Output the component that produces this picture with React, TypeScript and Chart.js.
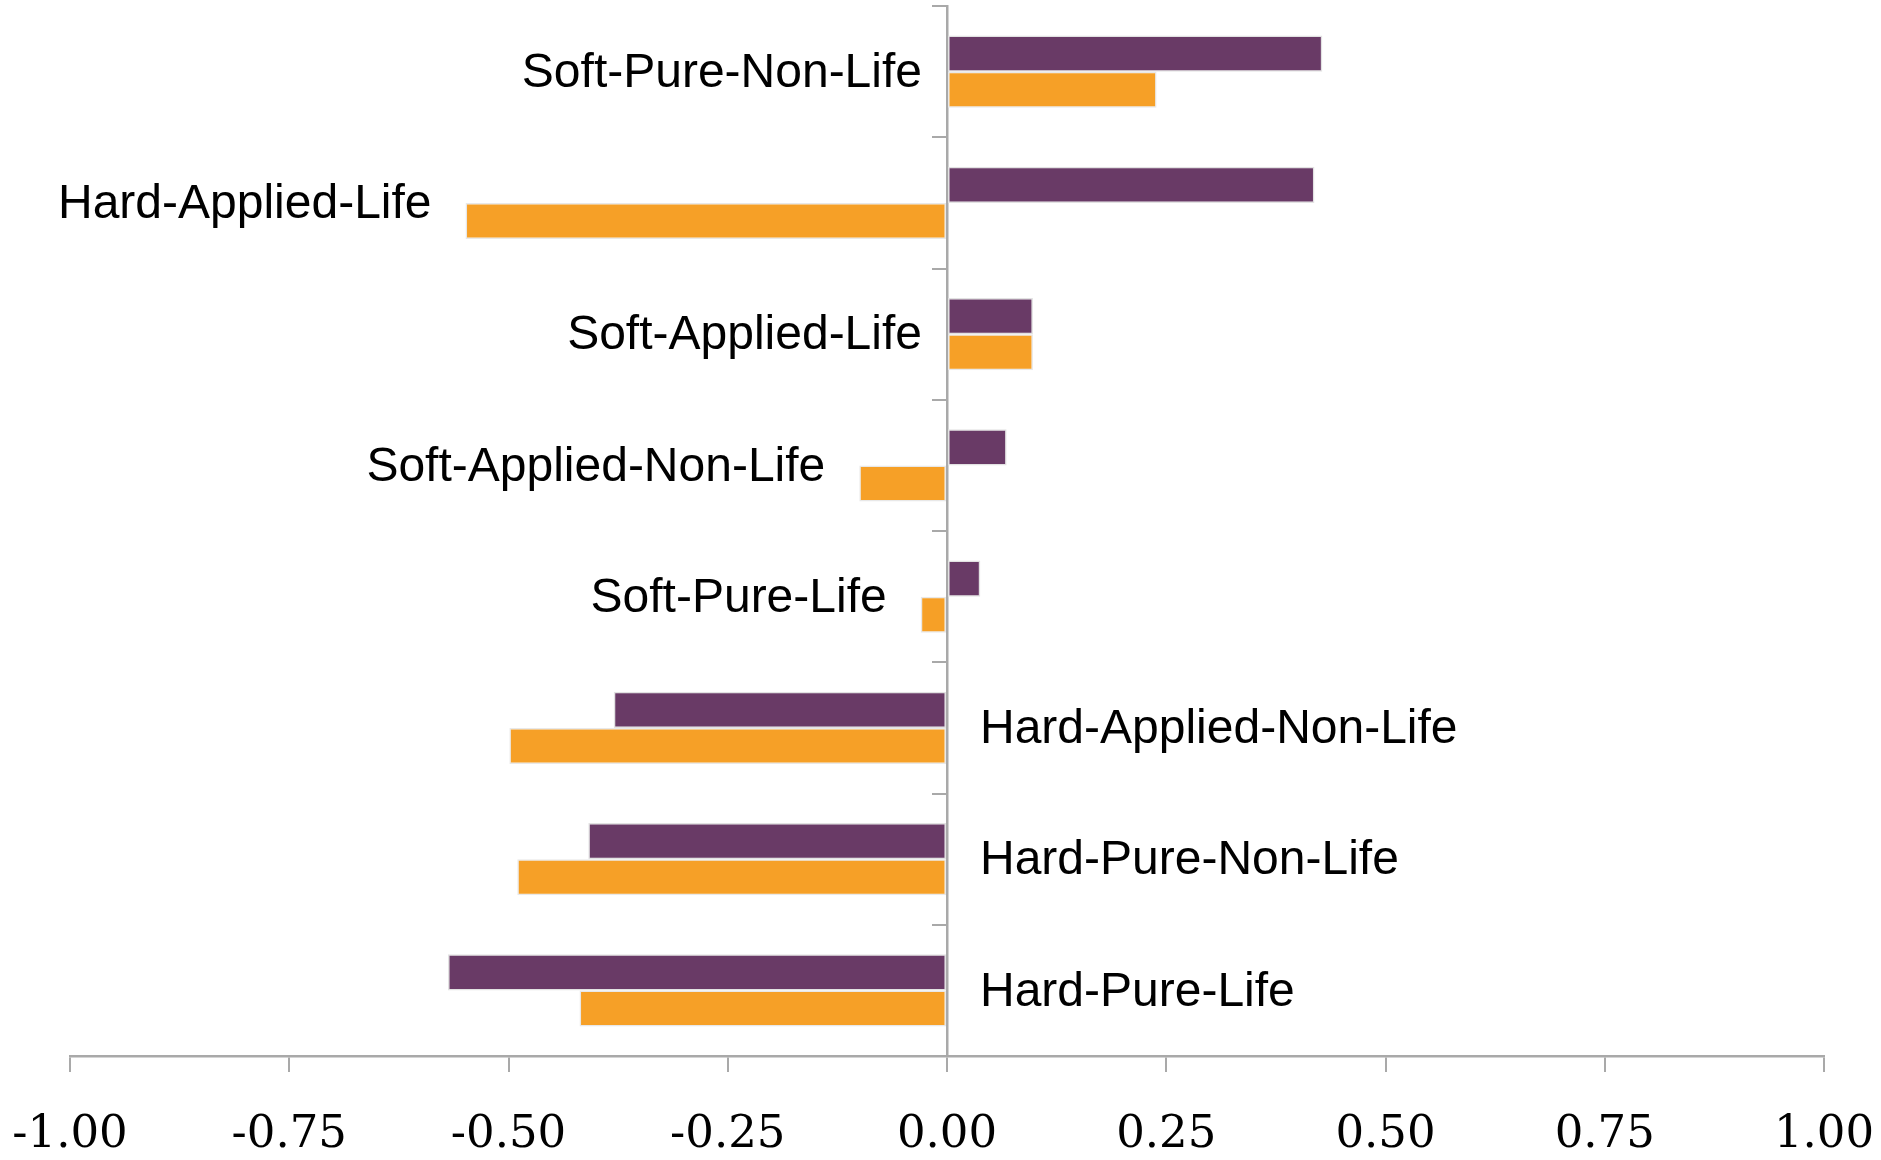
import React, { useEffect, useRef } from "react";
import { Chart, registerables } from "chart.js";

Chart.register(...registerables);

const categories = [
  "Soft-Pure-Non-Life",
  "Hard-Applied-Life",
  "Soft-Applied-Life",
  "Soft-Applied-Non-Life",
  "Soft-Pure-Life",
  "Hard-Applied-Non-Life",
  "Hard-Pure-Non-Life",
  "Hard-Pure-Life",
];

const purpleValues = [0.428, 0.419, 0.098, 0.068, 0.038, -0.38, -0.409, -0.569];
const orangeValues = [0.239, -0.549, 0.098, -0.1, -0.03, -0.499, -0.49, -0.419];

const xTickMin = -1;
const xTickMax = 1;
const xTickStep = 0.25;

const PURPLE = "#693A66";
const ORANGE = "#F6A027";
const AXIS = "#a9a9a9";

const categoryLabelPlugin = {
  id: "categoryLabels",
  afterDatasetsDraw(chart: any) {
    const { ctx } = chart;
    const x = chart.scales.x;
    const y = chart.scales.y;
    const zero = x.getPixelForValue(0);
    ctx.save();
    ctx.font = "48px 'Liberation Sans', Arial, sans-serif";
    ctx.fillStyle = "#000";
    ctx.textBaseline = "middle";
    categories.forEach((label, i) => {
      const vals = [purpleValues[i], orangeValues[i]];
      const minV = Math.min(...vals);
      const maxV = Math.max(...vals);
      const yy = y.getPixelForValue(i) + 2;
      if (maxV > 0) {
        ctx.textAlign = "right";
        if (minV < 0) {
          ctx.fillText(label, x.getPixelForValue(minV) - 34, yy);
        } else {
          ctx.fillText(label, zero - 25, yy);
        }
      } else {
        ctx.textAlign = "left";
        ctx.fillText(label, zero + 33, yy);
      }
    });
    ctx.restore();
  },
};

export default function App() {
  const canvasRef = useRef<HTMLCanvasElement | null>(null);

  useEffect(() => {
    if (!canvasRef.current) return;
    const chart = new Chart(canvasRef.current, {
      type: "bar",
      data: {
        labels: categories,
        datasets: [
          {
            label: "Series 1",
            data: purpleValues,
            backgroundColor: PURPLE,
            borderColor: "#e2e2e2",
            borderWidth: 1.5,
            borderSkipped: false,
          },
          {
            label: "Series 2",
            data: orangeValues,
            backgroundColor: ORANGE,
            borderColor: "#e8e8e8",
            borderWidth: 1.5,
            borderSkipped: false,
          },
        ],
      },
      options: {
        indexAxis: "y",
        animation: false,
        responsive: false,
        maintainAspectRatio: false,
        layout: { padding: { left: 70, right: 57, top: 6, bottom: 0 } },
        plugins: {
          legend: { display: false },
          tooltip: { enabled: false },
        },
        datasets: {
          bar: { categoryPercentage: 0.55, barPercentage: 1.0 },
        },
        scales: {
          x: {
            type: "linear",
            position: "bottom",
            min: xTickMin,
            max: xTickMax,
            afterFit: (scale: any) => {
              scale.height = 104;
              scale.paddingLeft = 0;
              scale.paddingRight = 0;
            },
            ticks: {
              stepSize: xTickStep,
              padding: 36,
              color: "#000",
              font: { family: "'DejaVu Serif', serif", size: 45 },
              callback: (v: any) => Number(v).toFixed(2),
              maxRotation: 0,
              autoSkip: false,
            },
            grid: {
              drawOnChartArea: false,
              drawTicks: true,
              tickLength: 16,
              color: AXIS,
              lineWidth: 2,
            },
            border: { display: true, color: AXIS, width: 2.5 },
          },
          y: {
            type: "category",
            position: { x: 0 } as any,
            ticks: { display: false },
            grid: {
              offset: true,
              drawOnChartArea: false,
              drawTicks: true,
              tickLength: 14,
              color: AXIS,
              lineWidth: 2,
            },
            border: { display: true, color: AXIS, width: 2.5 },
          },
        },
      } as any,
      plugins: [categoryLabelPlugin],
    });
    return () => chart.destroy();
  }, []);

  return (
    <div
      style={{
        position: "fixed",
        left: 0,
        top: 0,
        width: 1881,
        height: 1160,
        background: "#fff",
      }}
    >
      <canvas ref={canvasRef} width={1881} height={1160} style={{ display: "block" }} />
    </div>
  );
}
